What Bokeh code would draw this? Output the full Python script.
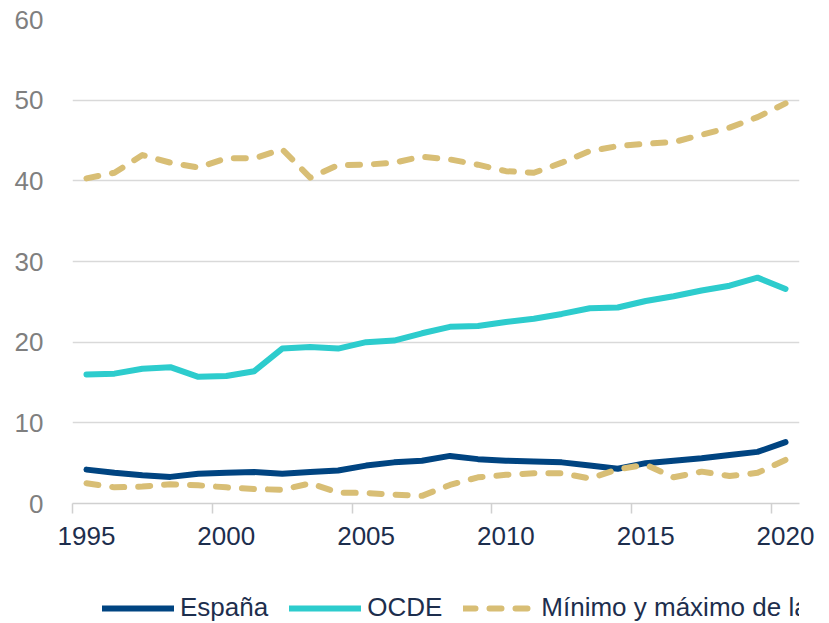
from bokeh.plotting import figure
from bokeh.layouts import column
from bokeh.models import FixedTicker, Legend, LegendItem, Range1d
from bokeh.embed import file_html
from bokeh.resources import INLINE

years = list(range(1995, 2021))
espana = [4.2, 3.8, 3.5, 3.3, 3.7, 3.8, 3.9, 3.7, 3.9, 4.1, 4.7, 5.1, 5.3,
          5.9, 5.5, 5.3, 5.2, 5.1, 4.7, 4.3, 5.0, 5.3, 5.6, 6.0, 6.4, 7.6]
ocde = [16.0, 16.1, 16.7, 16.9, 15.7, 15.8, 16.4, 19.2, 19.4, 19.2, 20.0, 20.2, 21.1,
        21.9, 22.0, 22.5, 22.9, 23.5, 24.2, 24.3, 25.1, 25.7, 26.4, 27.0, 28.0, 26.6]
ocde_min = [2.5, 2.0, 2.1, 2.4, 2.25, 2.0, 1.8, 1.7, 2.5, 1.35, 1.3, 1.1, 0.95,
            2.3, 3.25, 3.55, 3.75, 3.75, 3.1, 4.25, 4.8, 3.25, 3.95, 3.4, 3.8, 5.4]
ocde_max = [40.3, 41.0, 43.2, 42.25, 41.65, 42.8, 42.8, 43.9, 40.4, 41.95, 42.0, 42.25, 43.0,
            42.65, 42.0, 41.2, 41.0, 42.25, 43.7, 44.3, 44.6, 44.8, 45.7, 46.6, 47.9, 49.6]
y_ticks = [0, 10, 20, 30, 40, 50, 60]
x_label_years = [1995, 2000, 2005, 2010, 2015, 2020]
series_names = ["España", "OCDE", "Mínimo y máximo de la OCDE"]

NAVY = "#004481"
AQUA = "#2DCCCD"
SAND = "#D8BE75"
TEXT = "#1d2e4d"
FONT = "Liberation Sans"
DASH = "12 14"

# ---------------- main chart ----------------
p = figure(width=829, height=590, output_backend="svg", toolbar_location=None,
           x_range=Range1d(years[0] - 0.5, years[-1] + 0.5),
           y_range=Range1d(y_ticks[0], y_ticks[-1]),
           min_border_left=72, min_border_right=30, min_border_top=19,
           min_border_bottom=87)
p.outline_line_color = None
p.background_fill_color = "white"
p.border_fill_color = "white"

p.line(years, espana, line_color=NAVY, line_width=6, line_join="round", line_cap="round")
p.line(years, ocde, line_color=AQUA, line_width=6, line_join="round", line_cap="round")
p.line(years, ocde_min, line_color=SAND, line_width=6, line_dash=DASH,
       line_join="round", line_cap="round")
p.line(years, ocde_max, line_color=SAND, line_width=6, line_dash=DASH,
       line_join="round", line_cap="round")

xa = p.xaxis[0]
xa.ticker = FixedTicker(ticks=x_label_years, minor_ticks=[y - 0.5 for y in x_label_years])
xa.axis_line_color = "#d0d0d0"
xa.axis_line_width = 1.5
xa.major_tick_line_color = None
xa.major_tick_out = 0
xa.minor_tick_line_color = "#d0d0d0"
xa.minor_tick_line_width = 1.5
xa.minor_tick_in = 0
xa.minor_tick_out = 10
xa.major_label_text_font = FONT
xa.major_label_text_font_size = "26px"
xa.major_label_text_color = TEXT
xa.major_label_standoff = 13

ya = p.yaxis[0]
ya.ticker = FixedTicker(ticks=y_ticks)
ya.axis_line_color = None
ya.major_tick_line_color = None
ya.minor_tick_line_color = None
ya.major_tick_out = 0
ya.major_label_text_font = FONT
ya.major_label_text_font_size = "26px"
ya.major_label_text_color = "#7f7f7f"
ya.major_label_standoff = 29

p.xgrid.grid_line_color = None
p.ygrid.ticker = FixedTicker(ticks=y_ticks)
p.ygrid.grid_line_color = "#d9d9d9"
p.ygrid.grid_line_width = 1.5

# ---------------- legend strip ----------------
lg = figure(width=829, height=33, output_backend="svg", toolbar_location=None,
            x_axis_type=None, y_axis_type=None,
            x_range=Range1d(0, 1), y_range=Range1d(1000, 1001),
            min_border_left=0, min_border_right=0, min_border_top=0, min_border_bottom=0)
lg.outline_line_color = None
lg.xgrid.grid_line_color = None
lg.ygrid.grid_line_color = None
lg.background_fill_color = "white"
lg.border_fill_color = "white"

# legend swatches use the same styles; their data lie outside this strip's range
l_es = lg.line(years, espana, line_color=NAVY, line_width=6, line_cap="round")
l_oc = lg.line(years, ocde, line_color=AQUA, line_width=6, line_cap="round")
l_mm = lg.line(years, ocde_max, line_color=SAND, line_width=6, line_dash=DASH, line_cap="round")

legend = Legend(items=[
    LegendItem(label=series_names[0], renderers=[l_es]),
    LegendItem(label=series_names[1], renderers=[l_oc]),
    LegendItem(label=series_names[2], renderers=[l_mm]),
], orientation="horizontal", location=(30, 0))
legend.glyph_width = 72
legend.glyph_height = 20
legend.label_standoff = 6
legend.spacing = 21
legend.padding = 0
legend.margin = 0
legend.border_line_color = None
legend.background_fill_alpha = 0
legend.label_text_font = FONT
legend.label_text_font_size = "26px"
legend.label_text_color = TEXT
lg.add_layout(legend, "center")

layout = column(p, lg, spacing=0)
open("out.html", "w").write(file_html(layout, INLINE))
